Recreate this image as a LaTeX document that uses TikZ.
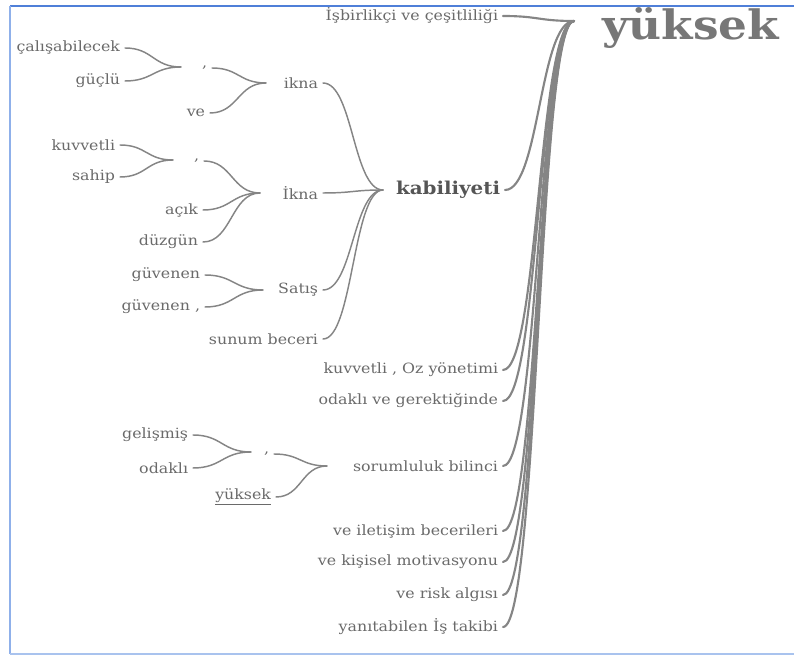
\documentclass[tikz,border=0pt]{standalone}
\usepackage{fontspec}
\setmainfont{DejaVu Serif}
\newfontfamily\lblfont[FakeStretch=1.12]{DejaVu Serif}
\usetikzlibrary{calc}
\definecolor{txt}{HTML}{6A6A6A}
\definecolor{kab}{HTML}{555555}
\definecolor{root}{HTML}{777777}
\definecolor{ln}{HTML}{858585}
\definecolor{frtop}{HTML}{4F7FD8}
\definecolor{frleft}{HTML}{8FB0EA}
\definecolor{frbot}{HTML}{A9C3EE}
\begin{document}
\begin{tikzpicture}[x=0.75pt,y=-0.75pt,
  lbl/.style={font=\lblfont\fontsize{10.6}{12}\selectfont, text=txt, inner xsep=3.5pt, inner ysep=1pt, anchor=east},
  wt/.style={to path={let \p1=(\tikztostart), \p2=(\tikztotarget) in
      .. controls ({(\x1+\x2)/2},\y1) and ({(\x1+\x2)/2},\y2) .. (\tikztotarget)}},
  br/.style={draw=ln, line width=1.1pt, line cap=round},
  stem/.style={draw=ln, line width=1.6pt, line cap=round}]
\useasboundingbox (0,0) rectangle (794,655);
% frame
\draw[frtop, line width=1.4pt] (10,6) -- (794,6);
\draw[frleft, line width=1.6pt] (10,6) -- (10,654);
\draw[frbot, line width=1.4pt] (10,654) -- (794,654);

% root
\node[font=\lblfont\fontsize{30.4}{34}\selectfont\bfseries, text=root, anchor=west, inner sep=0pt] (yuk) at (602,28) {yüksek};
\coordinate (F) at (574,21);

% right column
\node[lbl] (isb) at (503,16) {İşbirlikçi ve çeşitliliği};
\node[lbl, font=\lblfont\fontsize{13.3}{15}\selectfont\bfseries, text=kab] (kab) at (505,190) {kabiliyeti};
\node[lbl] (kuv) at (503,370) {kuvvetli , Oz yönetimi};
\node[lbl] (oda) at (503,401) {odaklı ve gerektiğinde};
\node[lbl] (sor) at (503,466) {sorumluluk bilinci};
\node[lbl] (ile) at (503,531) {ve iletişim becerileri};
\node[lbl] (kis) at (503,562) {ve kişisel motivasyonu};
\node[lbl] (ris) at (503,595) {ve risk algısı};
\node[lbl] (yan) at (503,627) {yanıtabilen İş takibi};

\foreach \n in {isb,kab,kuv,oda,sor,ile,kis,ris,yan}
  \draw[stem] (\n.east) to[wt] (F);

% kabiliyeti subtree
\coordinate (K) at (383,190);
\node[lbl] (ik1) at (323,83) {ikna};
\node[lbl] (ik2) at (323,193) {İkna};
\node[lbl] (sat) at (323,290) {Satış};
\node[lbl] (sun) at (323,339) {sunum beceri};
\foreach \n in {ik1,ik2,sat,sun}
  \draw[br] (\n.east) to[wt] (K);

% ikna subtree
\coordinate (T1) at (266,83);
\node[lbl] (c1) at (212,68) {,};
\node[lbl] (ve) at (210,113) {ve};
\foreach \n in {c1,ve}
  \draw[br] (\n.east) to[wt] (T1);
\coordinate (T1a) at (181,67);
\node[lbl] (cal) at (125,48) {çalışabilecek};
\node[lbl] (guc) at (125,81) {güçlü};
\foreach \n in {cal,guc}
  \draw[br] (\n.east) to[wt] (T1a);

% Ikna subtree
\coordinate (T2) at (260,193);
\node[lbl] (c2) at (204,161) {,};
\node[lbl] (acik) at (203,210) {açık};
\node[lbl] (duz) at (203,242) {düzgün};
\foreach \n in {c2,acik,duz}
  \draw[br] (\n.east) to[wt] (T2);
\coordinate (T2a) at (173,160);
\node[lbl] (kuvv) at (120,145) {kuvvetli};
\node[lbl] (sah) at (120,177) {sahip};
\foreach \n in {kuvv,sah}
  \draw[br] (\n.east) to[wt] (T2a);

% Satis subtree
\coordinate (T3) at (263,290);
\node[lbl] (gv1) at (205,275) {güvenen};
\node[lbl] (gv2) at (205,307) {güvenen ,};
\foreach \n in {gv1,gv2}
  \draw[br] (\n.east) to[wt] (T3);

% sorumluluk subtree
\coordinate (T4) at (327,466);
\node[lbl] (c3) at (274,454) {,};
\node[lbl] (yk2) at (276,497) {\underline{yüksek}};
\foreach \n in {c3,yk2}
  \draw[br] (\n.east) to[wt] (T4);
\coordinate (T4a) at (251,452);
\node[lbl] (gel) at (193,435) {gelişmiş};
\node[lbl] (odk) at (193,468) {odaklı};
\foreach \n in {gel,odk}
  \draw[br] (\n.east) to[wt] (T4a);
\end{tikzpicture}
\end{document}
